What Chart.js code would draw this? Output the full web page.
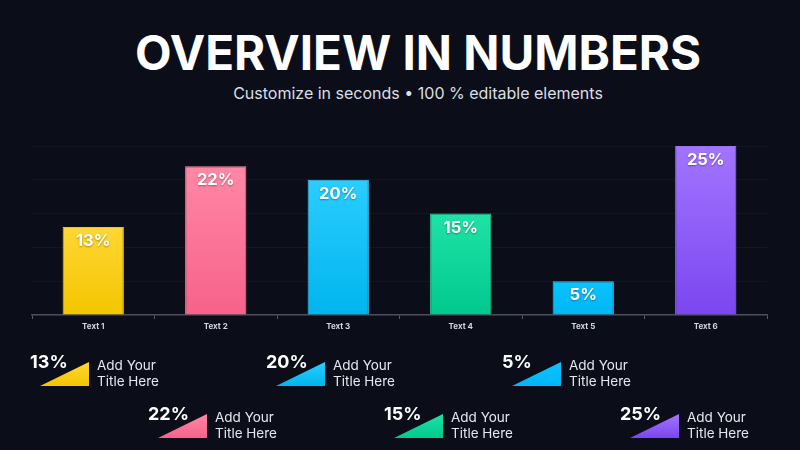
<!DOCTYPE html>
<html>
<head>
<meta charset="utf-8">
<script src="https://cdn.jsdelivr.net/npm/chart.js@4.4.1/dist/chart.umd.min.js"></script>
<style>
  html, body { margin: 0; padding: 0; background: #0b0e18; }
  #wrap { position: relative; width: 800px; height: 450px; overflow: hidden; font-family: 'Inter', sans-serif; }
  #myChart { position: absolute; left: 0; top: 0; }
  .title { position: absolute; left: 0; width: 836px; top: 25px; text-align: center; color: #fff;
           font-weight: 700; font-size: 47.5px; line-height: 56px; }
  .sub { position: absolute; left: 0; width: 836px; top: 82px; text-align: center; color: #dcdee6;
         font-size: 16px; line-height: 22px; }
  .pct { position: absolute; color: #fff; font-weight: 700; font-size: 18px; line-height: 18px; }
  .tri { position: absolute; width: 49px; height: 24px; clip-path: polygon(0 100%, 100% 0, 100% 100%); }
  .cap { position: absolute; color: #e6e7ee; font-size: 13.5px; line-height: 16px; }
</style>
</head>
<body>
<div id="wrap">
  <div class="title">OVERVIEW IN NUMBERS</div>
  <div class="sub">Customize in seconds • 100 % editable elements</div>
  <canvas id="myChart" width="800" height="450"></canvas>
</div>
<script>
const categories = ['Text 1', 'Text 2', 'Text 3', 'Text 4', 'Text 5', 'Text 6'];
const values = [13, 22, 20, 15, 5, 25];
const legendCaption = ['Add Your', 'Title Here'];

const topColors = ['#FFD633', '#FF87A6', '#2ACDFF', '#1FE2A5', '#0CC2FF', '#A275FF'];
const bottomColors = ['#F3C600', '#F7628A', '#00B5EE', '#00C98F', '#00B6F4', '#7B46F0'];
const borderColors = ['#E9C43A', '#F48AA6', '#3CCBF5', '#2FD8A0', '#2FC4F5', '#9A70F5'];

const ctx = document.getElementById('myChart');

function barGradient(context) {
    const chart = context.chart;
    const area = chart.chartArea;
    if (!area) return topColors[context.dataIndex];
    const i = context.dataIndex;
    const yTop = chart.scales.y.getPixelForValue(values[i]);
    const g = chart.ctx.createLinearGradient(0, yTop, 0, area.bottom);
    g.addColorStop(0, topColors[i]);
    g.addColorStop(1, bottomColors[i]);
    return g;
}

// percent labels inside the top of each bar
const valueLabels = {
    id: 'valueLabels',
    afterDatasetsDraw(chart) {
        const c = chart.ctx;
        const meta = chart.getDatasetMeta(0);
        c.save();
        c.font = '700 16.5px Inter';
        c.textAlign = 'center';
        c.textBaseline = 'middle';
        c.fillStyle = '#ffffff';
        c.shadowColor = 'rgba(0,0,0,0.35)';
        c.shadowBlur = 2;
        c.shadowOffsetY = 1;
        meta.data.forEach((bar, i) => {
            c.fillText(values[i] + '%', bar.x, bar.y + 14);
        });
        c.restore();
    }
};

new Chart(ctx, {
    type: 'bar',
    data: {
        labels: categories,
        datasets: [{
            data: values,
            backgroundColor: barGradient,
            borderColor: borderColors,
            borderWidth: 1,
            barPercentage: 0.5,
            categoryPercentage: 1
        }]
    },
    options: {
        responsive: false,
        animation: false,
        layout: { padding: { left: 32, right: 33, top: 146, bottom: 115 } },
        plugins: { legend: { display: false }, tooltip: { enabled: false } },
        scales: {
            x: {
                afterFit(scale) { scale.height = 20; },
                border: { color: '#4b4e5a', width: 1.5 },
                grid: { drawOnChartArea: false, color: '#5a5d68', tickLength: 4 },
                ticks: { color: '#d4d6de', font: { family: 'Inter', size: 8, weight: '700' }, padding: 3 }
            },
            y: {
                min: 0,
                max: 25,
                afterFit(scale) { scale.width = 0; },
                border: { display: false },
                grid: { color: 'rgba(255,255,255,0.035)', drawTicks: false },
                ticks: { display: false, stepSize: 5 }
            }
        }
    },
    plugins: [valueLabels]
});

// legend items under the chart, alternating rows
const wrap = document.getElementById('wrap');
values.forEach((v, i) => {
    const x = 40 + i * 118;
    const row = i % 2 === 0 ? 0 : 52;
    const pct = document.createElement('div');
    pct.className = 'pct';
    pct.style.left = (x - 10) + 'px';
    pct.style.top = (353 + row) + 'px';
    pct.textContent = v + '%';
    wrap.appendChild(pct);

    const tri = document.createElement('div');
    tri.className = 'tri';
    tri.style.left = x + 'px';
    tri.style.top = (362 + row) + 'px';
    tri.style.background = 'linear-gradient(' + topColors[i] + ', ' + bottomColors[i] + ')';
    wrap.appendChild(tri);

    const cap = document.createElement('div');
    cap.className = 'cap';
    cap.style.left = (x + 57) + 'px';
    cap.style.top = (357 + row) + 'px';
    cap.innerHTML = legendCaption[0] + '<br>' + legendCaption[1];
    wrap.appendChild(cap);
});
</script>
</body>
</html>
